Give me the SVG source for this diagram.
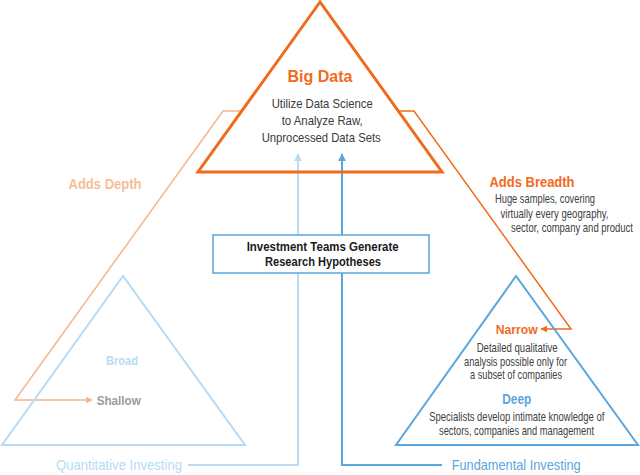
<svg xmlns="http://www.w3.org/2000/svg" width="640" height="475" viewBox="0 0 640 475">
<style>
text{font-family:"Liberation Sans",Arial,sans-serif;}
.b{font-weight:bold;}
.g{fill:#404040;font-size:12.2px;}
.g2{fill:#3a3a3a;font-size:13px;}
.or{fill:#f26a1b;}
.lo{fill:#f8bd97;}
.lb{fill:#b7dbf2;}
.db{fill:#5aa6dd;}
</style>
<defs>
<marker id="aLo" viewBox="0 0 10 10" refX="9" refY="5" markerWidth="7" markerHeight="7" orient="auto" markerUnits="userSpaceOnUse"><path d="M0,0 L10,5 L0,10 z" fill="#f8b48a"/></marker>
<marker id="aOr" viewBox="0 0 10 10" refX="9" refY="5" markerWidth="7" markerHeight="7" orient="auto" markerUnits="userSpaceOnUse"><path d="M0,0 L10,5 L0,10 z" fill="#f26a1b"/></marker>
<marker id="aLb" viewBox="0 0 10 10" refX="9" refY="5" markerWidth="8" markerHeight="8" orient="auto" markerUnits="userSpaceOnUse"><path d="M0,0 L10,5 L0,10 z" fill="#b7dbf2"/></marker>
<marker id="aDb" viewBox="0 0 10 10" refX="9" refY="5" markerWidth="8" markerHeight="8" orient="auto" markerUnits="userSpaceOnUse"><path d="M0,0 L10,5 L0,10 z" fill="#5aa6dd"/></marker>
</defs>
<rect width="640" height="475" fill="#fff"/>
<g id="connectors" fill="none">
<polyline points="242,111 223,111 15,400 92,400" stroke="#f8b48a" stroke-width="1.5" marker-end="url(#aLo)"/>
<polyline points="398,111 414,111 571,329 541,329" stroke="#f26a1b" stroke-width="1.5" marker-end="url(#aOr)"/>
<polyline points="188,465 298,465 298,154" stroke="#b7dbf2" stroke-width="2" marker-end="url(#aLb)"/>
<polyline points="442,465 342,465 342,154" stroke="#5aa6dd" stroke-width="2" marker-end="url(#aDb)"/>
</g>
<g id="big-data">
<polygon points="320,2 198,172 442,172" fill="none" stroke="#f26a1b" stroke-width="3"/>
<text x="287.5" y="82" class="b or" font-size="16" textLength="65" lengthAdjust="spacingAndGlyphs">Big Data</text>
<text x="271.7" y="107.5" class="g2" textLength="101" lengthAdjust="spacingAndGlyphs">Utilize Data Science</text>
<text x="281.7" y="124.5" class="g2" textLength="81" lengthAdjust="spacingAndGlyphs">to Analyze Raw,</text>
<text x="261.7" y="141.5" class="g2" textLength="119" lengthAdjust="spacingAndGlyphs">Unprocessed Data Sets</text>
</g>
<g id="adds-depth">
<text x="68.5" y="189" class="b lo" font-size="15" textLength="73" lengthAdjust="spacingAndGlyphs">Adds Depth</text>
</g>
<g id="adds-breadth">
<text x="489.5" y="187" class="b or" font-size="15" textLength="85" lengthAdjust="spacingAndGlyphs">Adds Breadth</text>
<text x="495" y="203" class="g" textLength="100" lengthAdjust="spacingAndGlyphs">Huge samples, covering</text>
<text x="500.5" y="217.5" class="g" textLength="108" lengthAdjust="spacingAndGlyphs">virtually every geography,</text>
<text transform="translate(511,232) scale(0.8,1)" class="g" textLength="152.5" lengthAdjust="spacingAndGlyphs">sector, company and product</text>
</g>
<g id="hypotheses">
<rect x="213" y="235" width="216" height="38" fill="#fff" stroke="#5aa6dd" stroke-width="1.5"/>
<text x="246.7" y="250.5" class="b" font-size="12.8" fill="#1a1a1a" textLength="152" lengthAdjust="spacingAndGlyphs">Investment Teams Generate</text>
<text x="265" y="265.5" class="b" font-size="12.8" fill="#1a1a1a" textLength="116" lengthAdjust="spacingAndGlyphs">Research Hypotheses</text>
</g>
<g id="quantitative">
<polygon points="123,276 2,445 245,445" fill="none" stroke="#b7dbf2" stroke-width="2"/>
<text x="106" y="365" class="b lb" font-size="13" textLength="32" lengthAdjust="spacingAndGlyphs">Broad</text>
<text x="96.7" y="405" class="b" font-size="13" fill="#9a9a9a" textLength="44" lengthAdjust="spacingAndGlyphs">Shallow</text>
<text x="56" y="470" class="lb" font-size="15" textLength="126" lengthAdjust="spacingAndGlyphs">Quantitative Investing</text>
</g>
<g id="fundamental">
<polygon points="516,276 396,445 638,445" fill="none" stroke="#5aa6dd" stroke-width="2"/>
<text x="495.7" y="334" class="b or" font-size="13.5" textLength="42" lengthAdjust="spacingAndGlyphs">Narrow</text>
<text x="476.7" y="352" class="g" textLength="81" lengthAdjust="spacingAndGlyphs">Detailed qualitative</text>
<text x="464" y="365.5" class="g" textLength="103" lengthAdjust="spacingAndGlyphs">analysis possible only for</text>
<text x="470" y="379" class="g" textLength="92" lengthAdjust="spacingAndGlyphs">a subset of companies</text>
<text x="502.3" y="404" class="b db" font-size="14" textLength="29" lengthAdjust="spacingAndGlyphs">Deep</text>
<text transform="translate(429.3,421) scale(0.8,1)" class="g" textLength="218.75" lengthAdjust="spacingAndGlyphs">Specialists develop intimate knowledge of</text>
<text transform="translate(439,435) scale(0.8,1)" class="g" textLength="193.75" lengthAdjust="spacingAndGlyphs">sectors, companies and management</text>
<text x="451.7" y="470" class="db" font-size="15" textLength="129" lengthAdjust="spacingAndGlyphs">Fundamental Investing</text>
</g>
</svg>
